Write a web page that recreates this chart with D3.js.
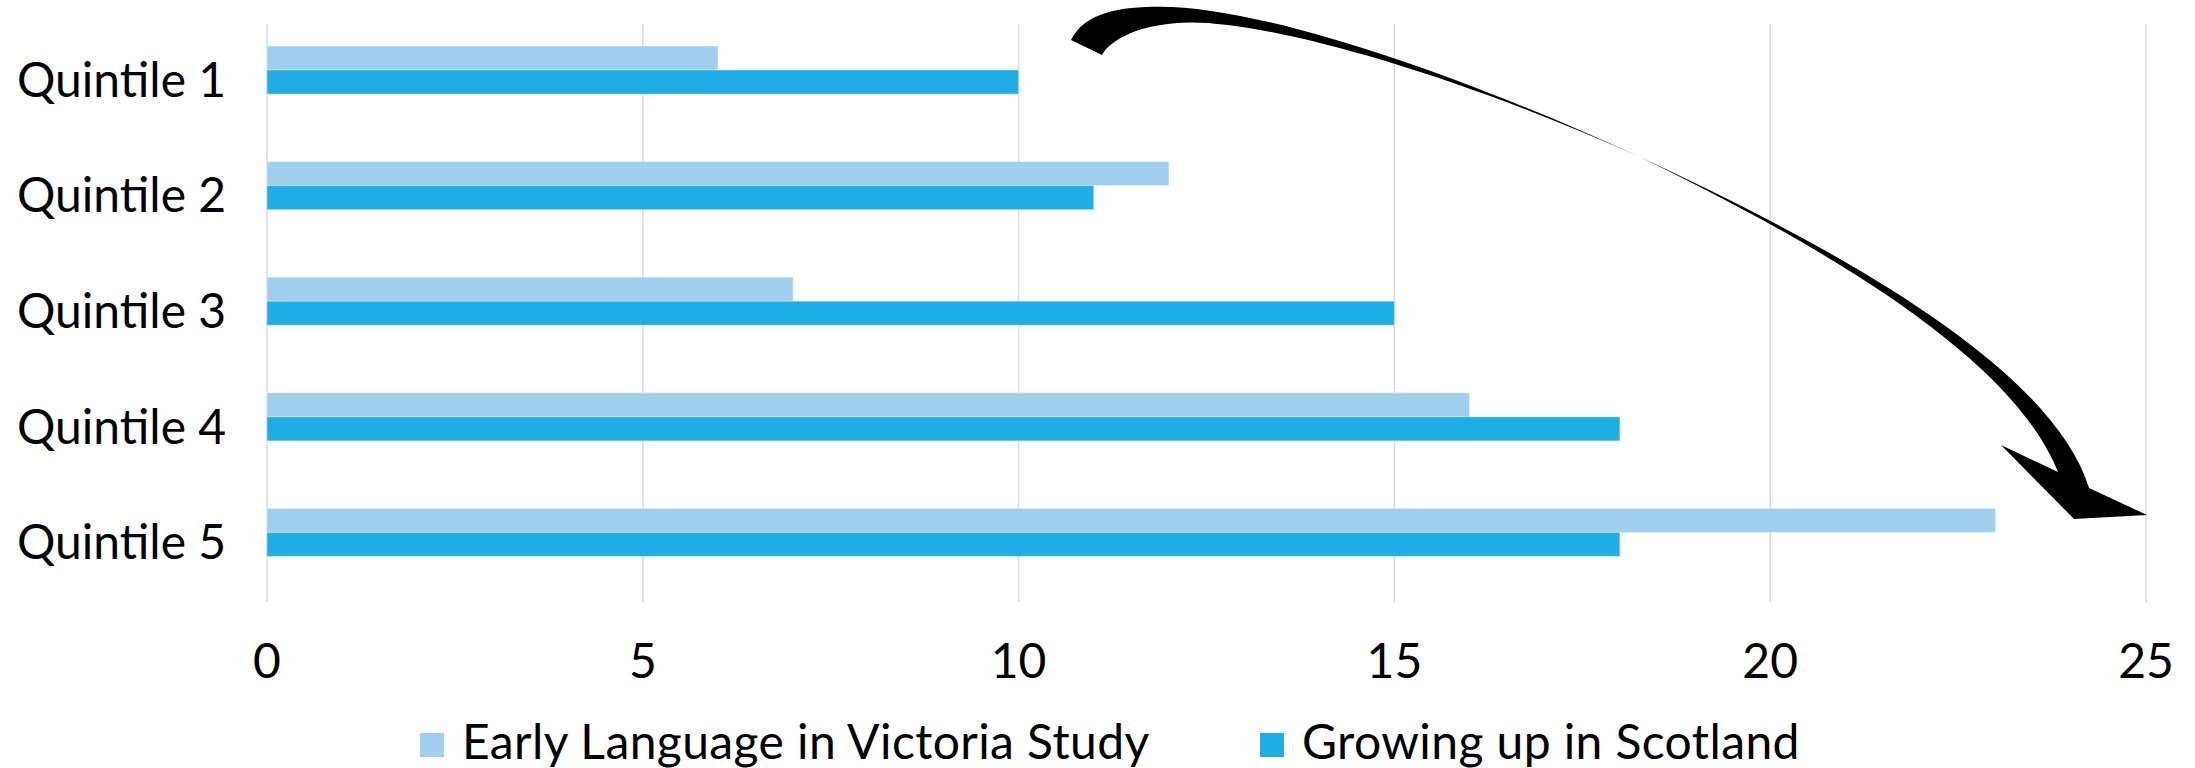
<!DOCTYPE html>
<html>
<head>
<meta charset="utf-8">
<script src="https://cdn.jsdelivr.net/npm/d3@7"></script>
<style>
  html, body { margin: 0; padding: 0; background: #ffffff; }
  svg text { font-family: Lato, "Noto Sans", sans-serif; fill: #000; }
</style>
</head>
<body>
<svg id="chart" width="2195" height="768"></svg>
<script>
const categories = ["Quintile 1", "Quintile 2", "Quintile 3", "Quintile 4", "Quintile 5"];
const seriesNames = ["Early Language in Victoria Study", "Growing up in Scotland"];
const victoriaValues = [6, 12, 7, 16, 23];
const scotlandValues = [10, 11, 15, 18, 18];
const xTicks = [0, 5, 10, 15, 20, 25];
const colors = ["#a2cfed", "#1fade4"];

const data = categories.map((c, i) => ({
    Topic: c,
    values: [victoriaValues[i], scotlandValues[i]]
}));

const svg = d3.select("#chart");
const plot = { left: 267, right: 2146, top: 24, bottom: 602 };

const x = d3.scaleLinear()
    .domain([0, 25])
    .range([plot.left, plot.right]);

const y = d3.scaleBand()
    .domain(categories)
    .range([plot.top, plot.bottom])
    .padding(0);

// bars sit a bit above the middle of each category slot
const step = y.step();
const inner = d3.scaleBand()
    .domain(seriesNames)
    .range([step * 0.19, step * 0.606])
    .padding(0);

// gridlines
svg.append("g")
    .selectAll("line")
    .data(xTicks)
    .enter()
    .append("line")
    .attr("x1", d => x(d))
    .attr("x2", d => x(d))
    .attr("y1", plot.top)
    .attr("y2", plot.bottom)
    .attr("stroke", "#d9d9d9")
    .attr("stroke-width", 1.5);

// bars
const groups = svg.append("g")
    .selectAll("g")
    .data(data)
    .enter()
    .append("g")
    .attr("transform", d => `translate(0,${y(d.Topic)})`);

groups.selectAll("rect")
    .data(d => d.values.map((v, i) => ({ name: seriesNames[i], value: v, i })))
    .enter()
    .append("rect")
    .attr("x", x(0))
    .attr("y", d => inner(d.name))
    .attr("width", d => x(d.value) - x(0))
    .attr("height", inner.bandwidth())
    .attr("fill", d => colors[d.i])
    .attr("stroke", "#ffffff")
    .attr("stroke-opacity", 0.35)
    .attr("stroke-width", 1);

// category labels
svg.append("g")
    .selectAll("text")
    .data(categories)
    .enter()
    .append("text")
    .attr("x", 17)
    .attr("y", d => y(d) + step / 2 + 15)
    .style("font-size", "48px")
    .text(d => d);

// x axis labels
svg.append("g")
    .selectAll("text")
    .data(xTicks)
    .enter()
    .append("text")
    .attr("x", d => x(d))
    .attr("y", 678)
    .attr("text-anchor", "middle")
    .style("font-size", "48px")
    .text(d => d);

// legend
const legendX = [420, 1260];
const legend = svg.append("g")
    .selectAll("g")
    .data(seriesNames)
    .enter()
    .append("g")
    .attr("transform", (d, i) => `translate(${legendX[i]},0)`);

legend.append("rect")
    .attr("x", 0)
    .attr("y", 733)
    .attr("width", 24)
    .attr("height", 24)
    .attr("fill", (d, i) => colors[i]);

legend.append("text")
    .attr("x", 42)
    .attr("y", 759)
    .style("font-size", "48px")
    .style("letter-spacing", "0.4px")
    .text(d => d);

// curved annotation arrow (decorative shape, a twisted ribbon)
const tail = d3.path();
tail.moveTo(1071, 40);
tail.bezierCurveTo(1085, 12, 1120, 6.7, 1160, 6.7);
tail.bezierCurveTo(1260, 6.7, 1450, 70, 1640, 157);
tail.bezierCurveTo(1450, 72, 1270, 22, 1190, 22.5);
tail.bezierCurveTo(1140, 23, 1110, 40, 1102, 55);
tail.closePath();

const head = d3.path();
head.moveTo(1640, 157);
head.bezierCurveTo(1800, 235, 2010, 350, 2058, 472);
head.lineTo(2001, 445);
head.lineTo(2074, 519);
head.lineTo(2147, 515);
head.lineTo(2089, 488);
head.bezierCurveTo(2050, 360, 1810, 236, 1640, 157);
head.closePath();

const arrow = svg.append("g").attr("fill", "#000");
arrow.append("path").attr("d", tail.toString());
arrow.append("path").attr("d", head.toString());
</script>
</body>
</html>
